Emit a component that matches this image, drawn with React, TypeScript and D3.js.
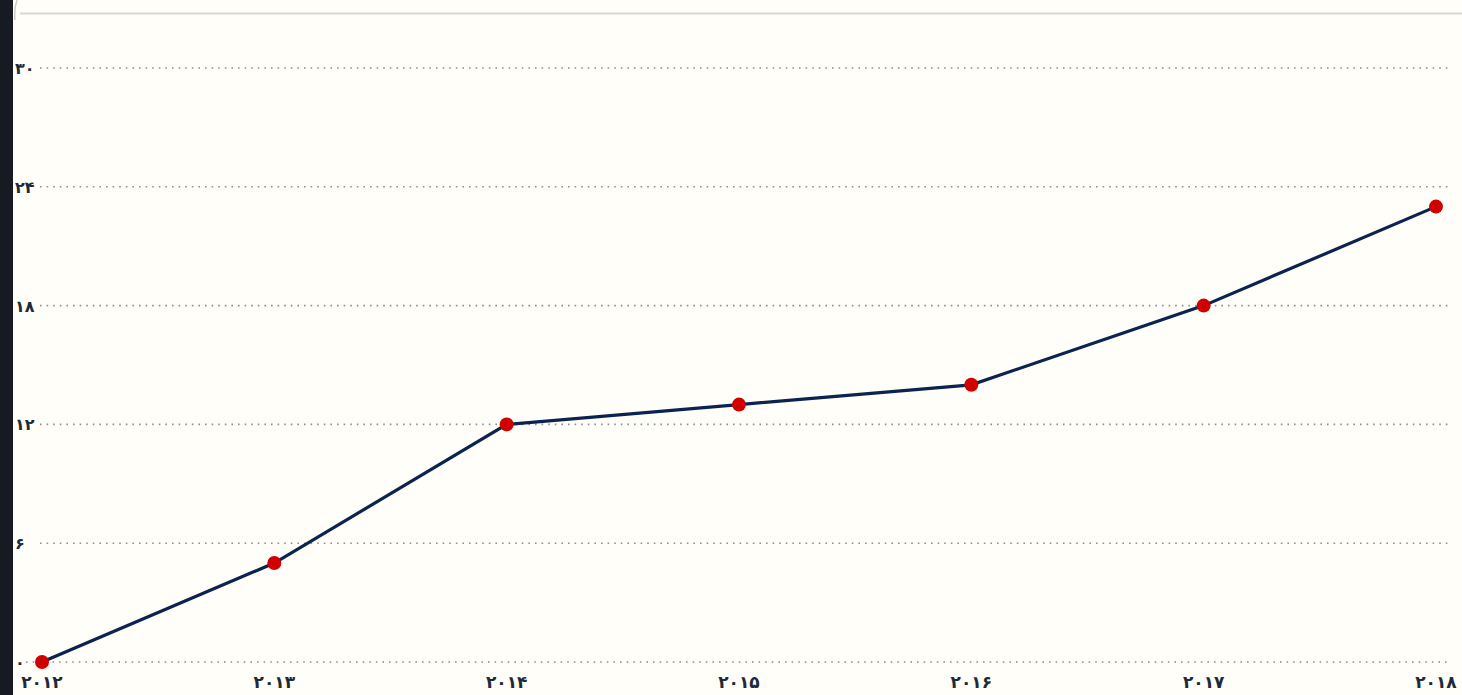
import React from "react";
import * as d3 from "d3";

const years = ["2012", "2013", "2014", "2015", "2016", "2017", "2018"];
const values = [0, 5, 12, 13, 14, 18, 23];
const yTicks = [0, 6, 12, 18, 24, 30];

const toFa = (s: string) => s.replace(/[0-9]/g, (d) => "۰۱۲۳۴۵۶۷۸۹"[+d]);

export default function App() {
  const W = 1462, H = 695;
  const x = d3.scalePoint<string>().domain(years).range([42, 1436]);
  const y = d3.scaleLinear().domain([0, 30]).range([662, 68]);
  const line = d3.line<number>().x((_, i) => x(years[i])!).y((v) => y(v));
  const font = "'DejaVu Sans', sans-serif";
  return (
    <svg width={W} height={H} style={{ position: "absolute", left: 0, top: 0 }}>
      <rect x={0} y={0} width={W} height={H} fill="#fffef8" />
      <rect x={0} y={0} width={13} height={H} fill="#161b21" />
      <path d="M15,20 Q14,8 17,0" stroke="#cfcdc6" strokeWidth={1.5} fill="none" />
      <line x1={20} x2={W} y1={13.5} y2={13.5} stroke="#d9d7d0" strokeWidth={2} />
      {yTicks.map((t) => (
        <g key={t}>
          <line x1={t === 0 ? 26 : 40} x2={1448} y1={y(t)} y2={y(t)} stroke="#8f8f8f" strokeWidth={1.6} strokeDasharray="1.6 5" />
          <text x={15} y={y(t) + 6} fontSize={16} fontWeight="bold" fill="#1c2a3a" fontFamily={font}>{toFa(String(t))}</text>
        </g>
      ))}
      <path d={line(values)!} fill="none" stroke="#0b2350" strokeWidth={3.2} />
      {values.map((v, i) => (
        <circle key={i} cx={x(years[i])} cy={y(v)} r={7} fill="#d00000" />
      ))}
      {years.map((yr) => (
        <text key={yr} x={x(yr)} y={688} textAnchor="middle" fontSize={17} fontWeight="bold" fill="#1c2a3a" fontFamily={font}>{toFa(yr)}</text>
      ))}
    </svg>
  );
}
